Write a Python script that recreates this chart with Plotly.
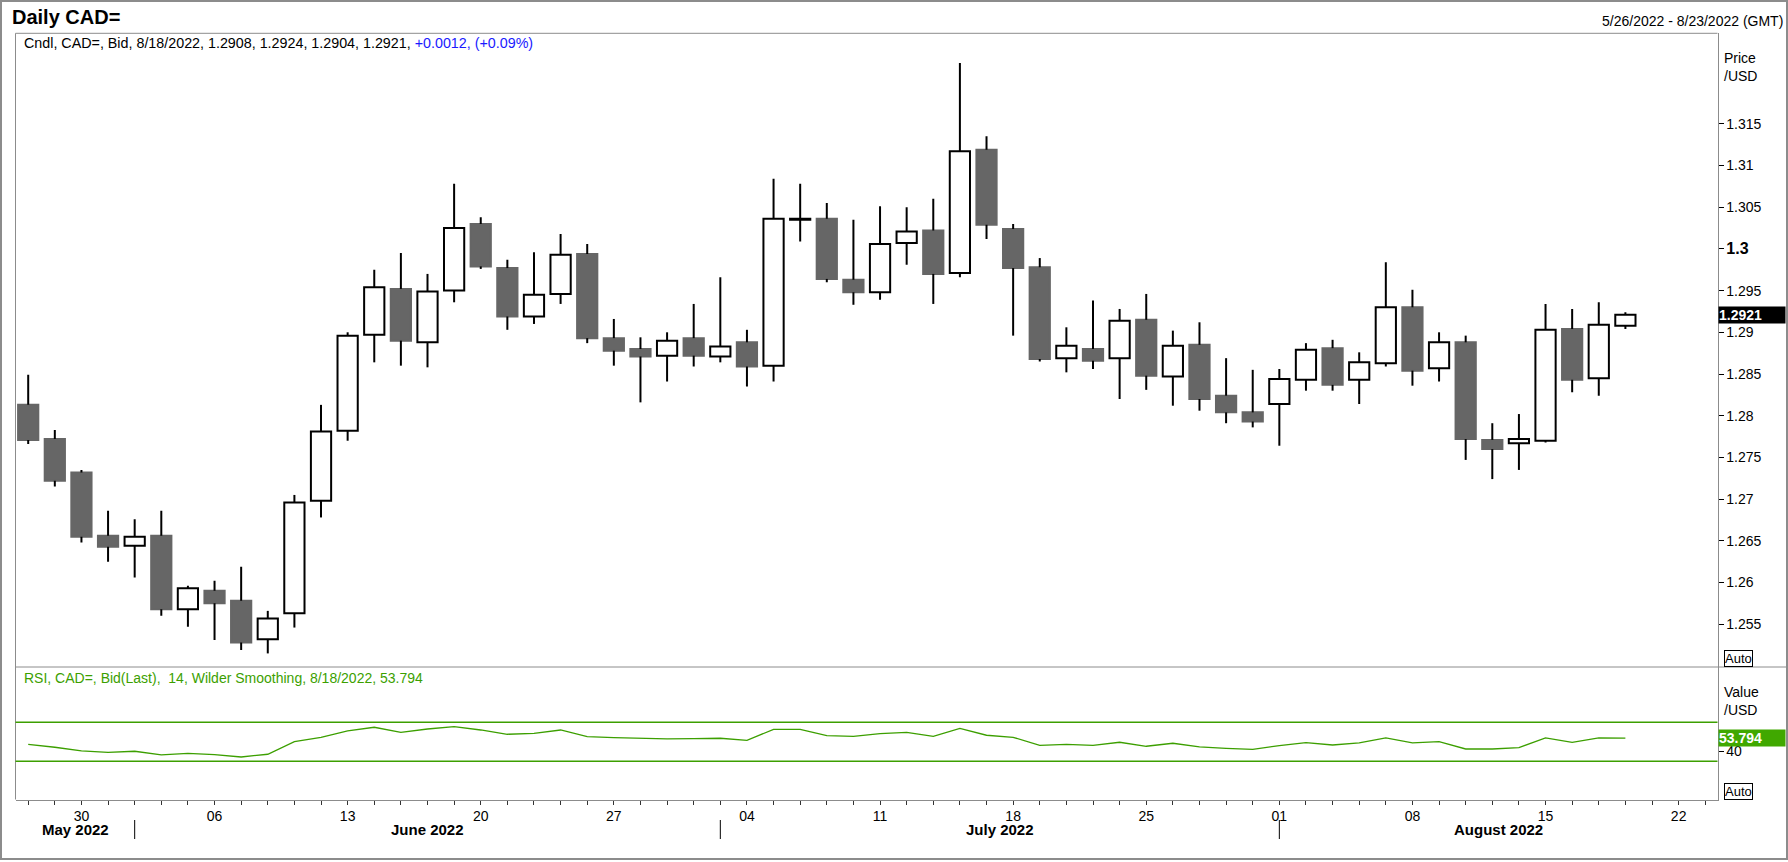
import pandas as pd
import plotly.graph_objects as go

# daily bid candles, 5/26/2022 .. 8/18/2022
opens = [1.2813, 1.2772, 1.2732, 1.2656, 1.2644, 1.2656, 1.2568, 1.2590, 1.2578, 1.2532,
         1.2563, 1.2698, 1.2782, 1.2897, 1.2952, 1.2888, 1.2950, 1.3030, 1.2977, 1.2919,
         1.2946, 1.2994, 1.2893, 1.2880, 1.2872, 1.2893, 1.2871, 1.2888, 1.2860, 1.3035,
         1.3036, 1.2963, 1.2948, 1.3007, 1.3022, 1.2971, 1.3119, 1.3024, 1.2978, 1.2869,
         1.2880, 1.2869, 1.2915, 1.2847, 1.2885, 1.2824, 1.2804, 1.2814, 1.2843, 1.2881,
         1.2843, 1.2863, 1.2930, 1.2857, 1.2888, 1.2771, 1.2767, 1.2770, 1.2904, 1.2845,
         1.2908]
highs = [1.2849, 1.2783, 1.2735, 1.2686, 1.2676, 1.2686, 1.2596, 1.2602, 1.2619, 1.2566,
         1.2705, 1.2813, 1.2900, 1.2975, 1.2995, 1.2970, 1.3078, 1.3038, 1.2987, 1.2996,
         1.3018, 1.3006, 1.2916, 1.2894, 1.2900, 1.2934, 1.2966, 1.2903, 1.3084, 1.3078,
         1.3055, 1.3035, 1.3051, 1.3050, 1.3060, 1.3223, 1.3135, 1.3030, 1.2989, 1.2906,
         1.2938, 1.2928, 1.2946, 1.2902, 1.2912, 1.2869, 1.2855, 1.2856, 1.2887, 1.2891,
         1.2876, 1.2984, 1.2951, 1.2900, 1.2896, 1.2791, 1.2802, 1.2934, 1.2928, 1.2936,
         1.2924]
lows = [1.2766, 1.2715, 1.2648, 1.2625, 1.2606, 1.2560, 1.2547, 1.2531, 1.2519, 1.2515,
        1.2546, 1.2678, 1.2770, 1.2864, 1.2860, 1.2858, 1.2936, 1.2976, 1.2903, 1.2910,
        1.2934, 1.2887, 1.2860, 1.2816, 1.2841, 1.2859, 1.2864, 1.2835, 1.2841, 1.3009,
        1.2960, 1.2933, 1.2939, 1.2981, 1.2934, 1.2966, 1.3012, 1.2896, 1.2865, 1.2852,
        1.2856, 1.2820, 1.2831, 1.2812, 1.2806, 1.2791, 1.2786, 1.2764, 1.2830, 1.2830,
        1.2814, 1.2859, 1.2836, 1.2841, 1.2747, 1.2724, 1.2735, 1.2768, 1.2828, 1.2824,
        1.2904]
closes = [1.2771, 1.2722, 1.2655, 1.2643, 1.2655, 1.2568, 1.2593, 1.2575, 1.2528, 1.2557,
          1.2696, 1.2781, 1.2896, 1.2954, 1.2890, 1.2949, 1.3025, 1.2979, 1.2919, 1.2945,
          1.2993, 1.2893, 1.2878, 1.2871, 1.2890, 1.2872, 1.2883, 1.2859, 1.3036, 1.3036,
          1.2964, 1.2948, 1.3006, 1.3021, 1.2970, 1.3117, 1.3029, 1.2977, 1.2868, 1.2884,
          1.2866, 1.2914, 1.2848, 1.2884, 1.2820, 1.2804, 1.2793, 1.2844, 1.2879, 1.2837,
          1.2864, 1.2930, 1.2854, 1.2888, 1.2772, 1.2760, 1.2772, 1.2903, 1.2843, 1.2909,
          1.2921]
rsi = [47.4, 44.4, 40.6, 39.2, 40.3, 36.5, 38.2, 36.8, 34.4, 37.2,
       50.1, 54.6, 61.1, 64.9, 59.7, 63.1, 65.5, 62.1, 57.7, 58.7,
       62.1, 55.2, 54.2, 53.2, 52.9, 53.2, 53.6, 51.5, 62.8, 62.8,
       56.3, 55.6, 58.3, 59.7, 55.6, 63.8, 56.7, 54.6, 46.4, 47.4,
       46.4, 49.5, 45.4, 48.5, 44.7, 43.3, 42.3, 46.0, 49.1, 46.7,
       48.8, 53.9, 48.8, 50.1, 42.6, 42.6, 44.0, 53.9, 49.5, 53.9,
       53.794]

price_ticks = [1.255, 1.26, 1.265, 1.27, 1.275, 1.28, 1.285, 1.29, 1.295,
               1.3, 1.305, 1.31, 1.315]
month_names = ["May 2022", "June 2022", "July 2022", "August 2022"]

# trading days, axis runs two days past the last candle
days = pd.bdate_range("2022-05-26", "2022-08-23")
n = len(closes)
idx = list(range(n))

W, H = 1788, 862
def px(x):
    return x / W
def py(y):
    return 1 - y / H

GRAY = "#666666"
FRAME = "#8c8c8c"
GREEN = "#3c9f00"
FONT = "Liberation Sans, Arial, sans-serif"

x_range = [-0.477, 63.46]

fig = go.Figure()

# wicks: above and below the body so open bodies stay empty
wx, wy = [], []
for i in idx:
    top = max(opens[i], closes[i])
    bot = min(opens[i], closes[i])
    wx += [i, i, None, i, i, None]
    wy += [top, highs[i], None, lows[i], bot, None]
fig.add_trace(go.Scatter(x=wx, y=wy, mode="lines", line=dict(color="black", width=2),
                         hoverinfo="skip", showlegend=False, xaxis="x", yaxis="y"))

up = [c >= o for o, c in zip(opens, closes)]
fig.add_trace(go.Bar(
    x=idx,
    base=[min(o, c) for o, c in zip(opens, closes)],
    y=[max(abs(c - o), 0.00005) for o, c in zip(opens, closes)],
    width=0.76,
    marker=dict(color=["white" if u else GRAY for u in up],
                line=dict(color=["black" if u else GRAY for u in up], width=2)),
    showlegend=False, xaxis="x", yaxis="y"))

fig.add_trace(go.Scatter(x=idx, y=rsi, mode="lines", line=dict(color=GREEN, width=1.3),
                         showlegend=False, xaxis="x2", yaxis="y2"))

mondays = [i for i, d in enumerate(days) if d.weekday() == 0]
fig.update_layout(
    width=W, height=H,
    margin=dict(l=0, r=0, t=0, b=0),
    paper_bgcolor="white", plot_bgcolor="white",
    font=dict(family=FONT, size=14, color="black"),
    barmode="overlay",
    xaxis=dict(domain=[px(15.5), px(1717.5)], range=x_range, showticklabels=False,
               showgrid=False, zeroline=False, showline=False, anchor="y"),
    yaxis=dict(domain=[py(667), py(33.3)], range=[1.24987, 1.32585], side="right",
               anchor="x", tickvals=price_ticks,
               ticktext=["<b><span style='font-size:16px'>1.3</span></b>" if t == 1.3 else f"{t:g}" for t in price_ticks],
               ticks="outside", ticklen=5, tickcolor="black", showgrid=False,
               zeroline=False, showline=True, linecolor=FRAME, linewidth=1),
    xaxis2=dict(domain=[px(15.5), px(1717.5)], range=x_range, anchor="y2",
                tickvals=mondays, ticktext=[days[i].strftime("%d") for i in mondays],
                ticks="outside", ticklen=4, tickcolor="#333333",
                minor=dict(tickmode="linear", tick0=0, dtick=1, ticks="outside",
                           ticklen=4, tickcolor="#333333", showgrid=False),
                showgrid=False, zeroline=False, showline=True, linecolor=FRAME, linewidth=1),
    yaxis2=dict(domain=[py(799.5), py(667)], range=[-9.2, 126.7], side="right",
                anchor="x2", tickvals=[40], ticks="outside", ticklen=5, tickcolor="black",
                showgrid=False, zeroline=False, showline=True, linecolor=FRAME, linewidth=1),
)

shapes = [
    # outer frame
    dict(type="rect", xref="paper", yref="paper", x0=px(1), x1=px(1787), y0=py(859), y1=py(1),
         line=dict(color=FRAME, width=2)),
    # plot frame top / left, panel separator
    dict(type="line", xref="paper", yref="paper", x0=px(15.5), x1=px(1717.5), y0=py(33.3), y1=py(33.3),
         line=dict(color=FRAME, width=1)),
    dict(type="line", xref="paper", yref="paper", x0=px(15.5), x1=px(15.5), y0=py(799.5), y1=py(33.3),
         line=dict(color=FRAME, width=1)),
    dict(type="line", xref="paper", yref="paper", x0=px(15.5), x1=px(1787), y0=py(667), y1=py(667),
         line=dict(color=FRAME, width=1)),
]
for lvl in [70, 30]:
    shapes.append(dict(type="line", xref="x2 domain", yref="y2", x0=0, x1=1, y0=lvl, y1=lvl,
                       line=dict(color=GREEN, width=1.5)))
# month separators at the first trading day of each month
month_starts = [i for i in range(1, n) if days[i].month != days[i - 1].month]
for i in month_starts:
    shapes.append(dict(type="line", xref="x2", yref="paper", x0=i, x1=i, y0=py(820), y1=py(839),
                       line=dict(color="black", width=1)))
fig.update_layout(shapes=shapes)

chg = closes[-1] - closes[-2]
pct = chg / closes[-2] * 100
last_day = f"{days[n - 1].month}/{days[n - 1].day}/{days[n - 1].year}"
header = (f"Cndl, CAD=, Bid, {last_day}, "
          f"{opens[-1]:.4f}, {highs[-1]:.4f}, {lows[-1]:.4f}, {closes[-1]:.4f}, "
          f"<span style='color:#1a1aff'>{chg:+.4f}, ({pct:+.2f}%)</span>")

bounds = [x_range[0]] + month_starts + [x_range[1]]
anns = [
    dict(text="<b>Daily CAD=</b>", x=px(10), y=py(17), xanchor="left", yanchor="middle",
         font=dict(size=20)),
    dict(text="5/26/2022 - 8/23/2022 (GMT)", x=px(1785), y=py(21), xanchor="right",
         yanchor="middle"),
    dict(text=header, x=px(22), y=py(43), xanchor="left", yanchor="middle",
         font=dict(size=14.3)),
    dict(text="Price<br>/USD", x=px(1722), y=py(67), xanchor="left", yanchor="middle", align="left"),
    dict(text="Auto", x=px(1738), y=py(658), xanchor="center", yanchor="middle",
         bordercolor="black", borderwidth=1, borderpad=0, font=dict(size=13)),
    dict(text=f"RSI, CAD=, Bid(Last),  14, Wilder Smoothing, {last_day}, {rsi[-1]:.3f}",
         x=px(22), y=py(678), xanchor="left", yanchor="middle", font=dict(color=GREEN)),
    dict(text="Value<br>/USD", x=px(1722), y=py(701), xanchor="left", yanchor="middle", align="left"),
    dict(text="Auto", x=px(1738), y=py(791), xanchor="center", yanchor="middle",
         bordercolor="black", borderwidth=1, borderpad=0, font=dict(size=13)),
    dict(text=f"<b>{closes[-1]:.4f}</b>", x=px(1717.5), y=closes[-1], xref="paper", yref="y",
         xanchor="left", yanchor="middle", bgcolor="black", font=dict(color="white"),
         width=66, align="left", borderpad=0),
    dict(text=f"<b>{rsi[-1]:.3f}</b>", x=px(1717.5), y=rsi[-1], xref="paper", yref="y2",
         xanchor="left", yanchor="middle", bgcolor="#40a800", font=dict(color="white"),
         width=66, align="left", borderpad=0),
]
for k, name in enumerate(month_names):
    anns.append(dict(text=f"<b>{name}</b>", x=(bounds[k] + bounds[k + 1]) / 2, xref="x2",
                     y=py(829), yref="paper", xanchor="center", yanchor="middle",
                     font=dict(size=15)))
for a in anns:
    a.setdefault("xref", "paper")
    a.setdefault("yref", "paper")
    a["showarrow"] = False
fig.update_layout(annotations=anns)

# page body has a default 8px margin, drop it so the chart sits at 0,0
fig.write_html("out.html", config={"displayModeBar": False},
               post_script="document.body.style.margin='0';")
